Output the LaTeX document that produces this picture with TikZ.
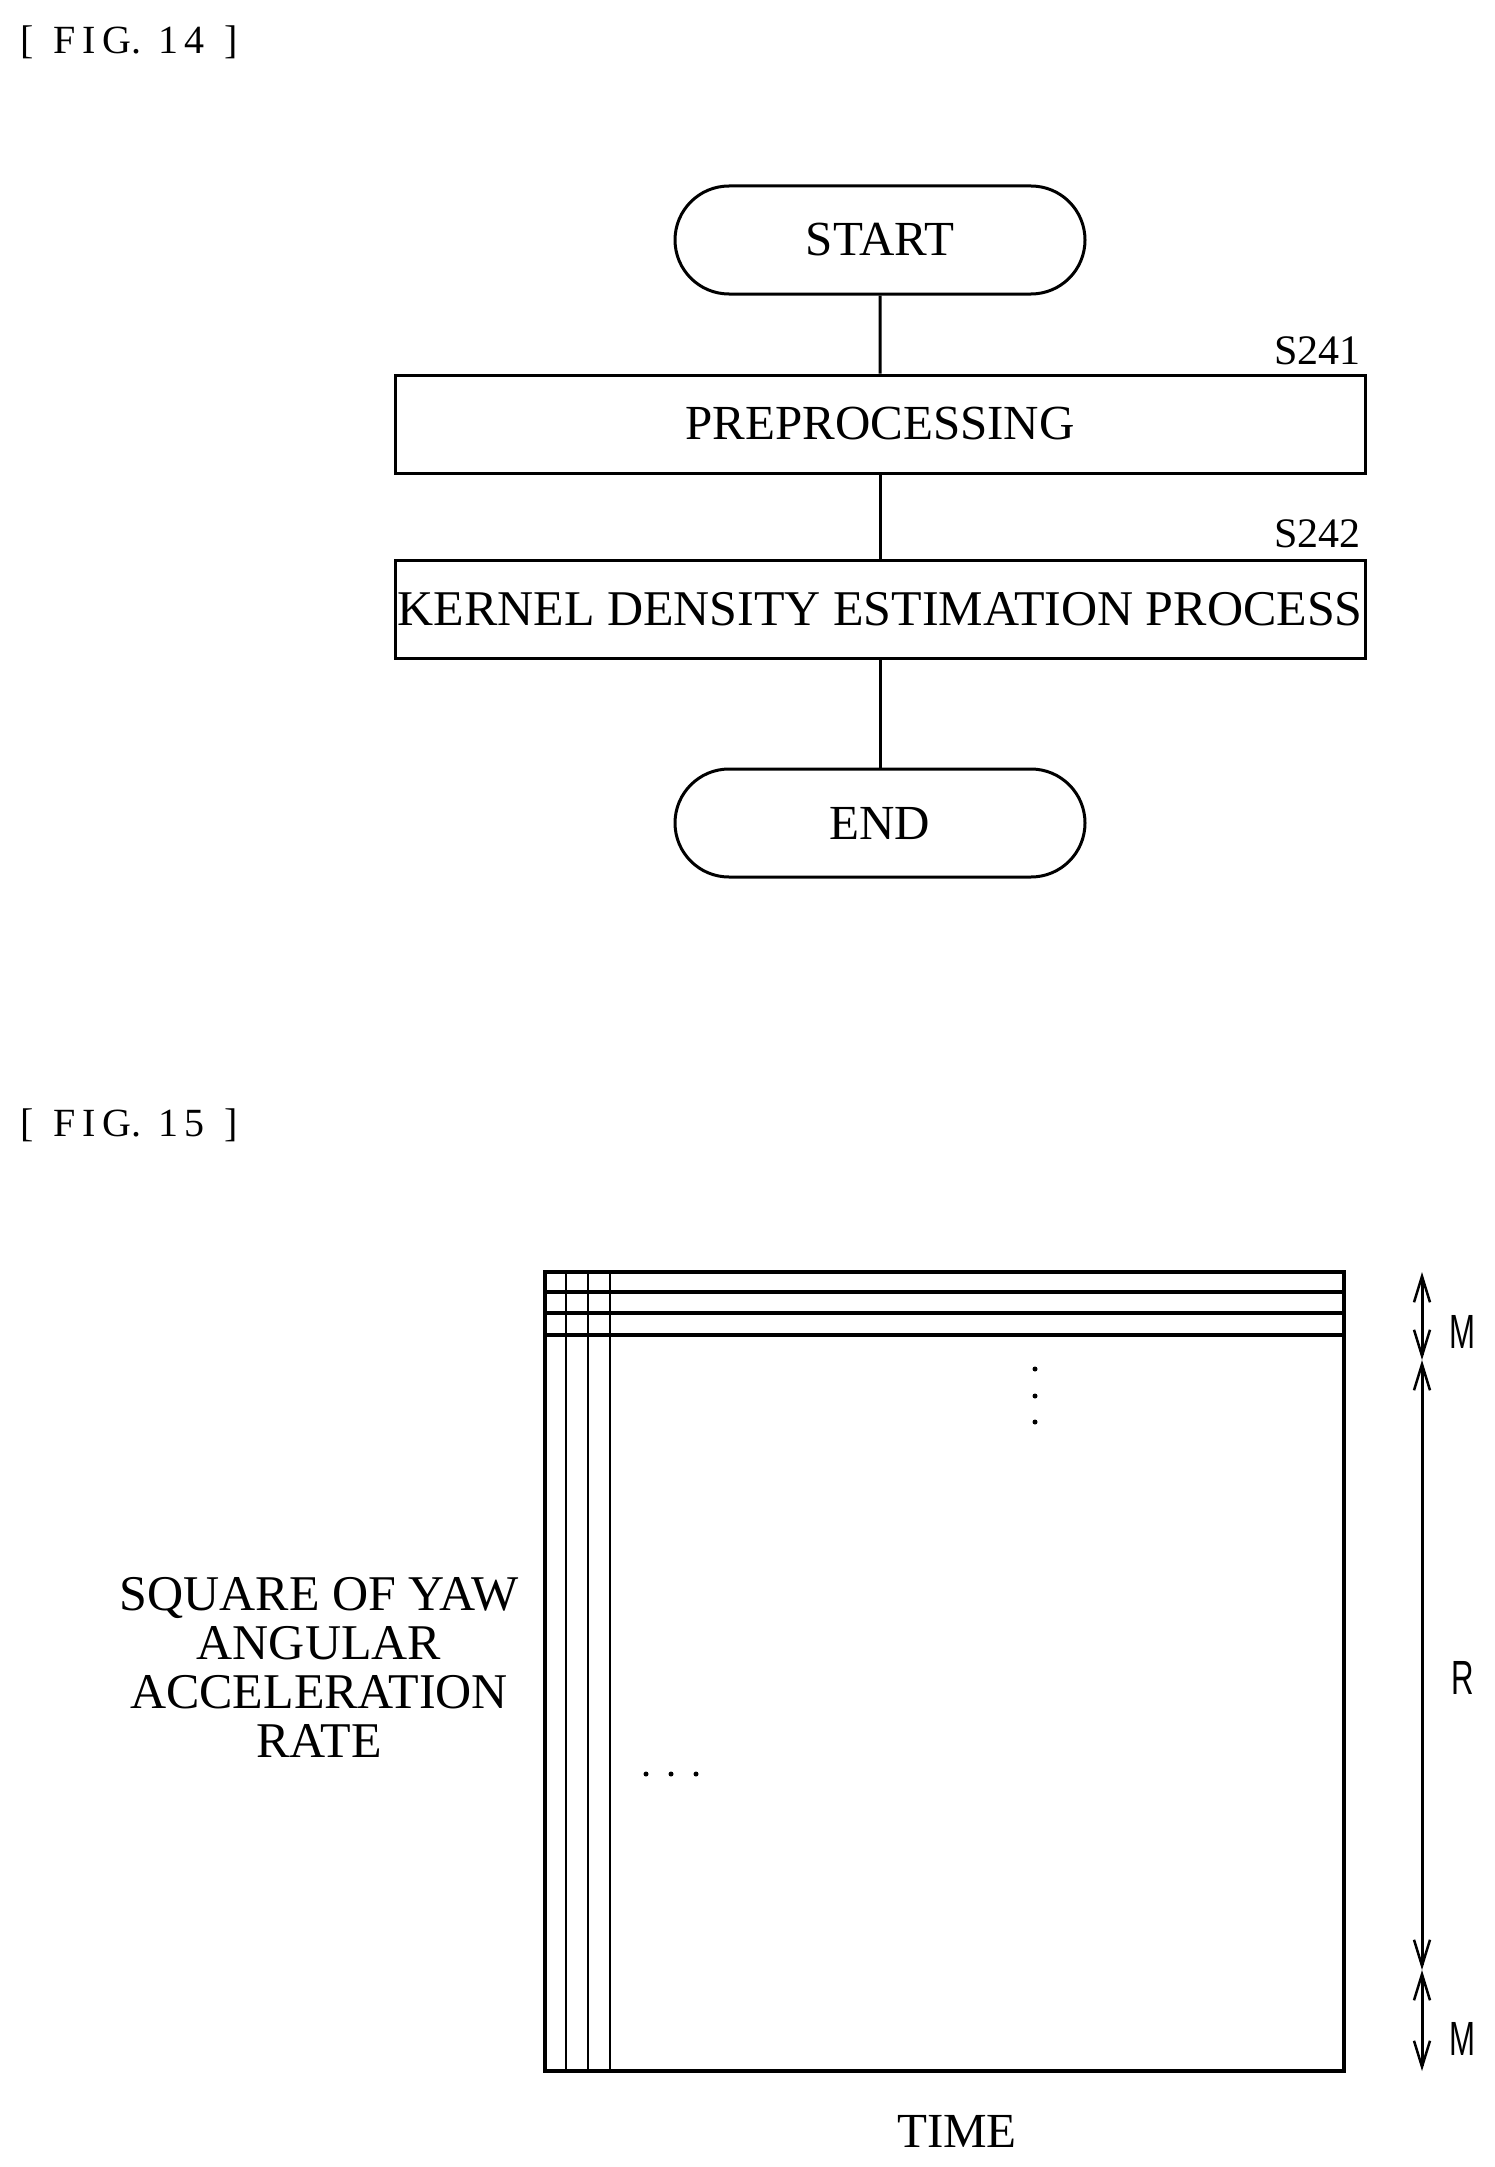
\documentclass[tikz,border=0pt]{standalone}
\usepackage{fontspec}
\setmainfont{Liberation Serif}
\newfontfamily\gothic{Liberation Sans}
\usetikzlibrary{arrows.meta,shapes.misc}
\begin{document}
\begin{tikzpicture}[x=1pt,y=-1pt,
  line width=3pt,
  txt/.style={font=\fontsize{49}{56}\selectfont, inner sep=0pt},
  term/.style={draw, rounded rectangle, minimum width=410pt, minimum height=108pt, txt},
  proc/.style={draw, rectangle, minimum width=970pt, minimum height=98pt, txt},
  lab/.style={font=\fontsize{42}{48}\selectfont, inner sep=0pt, anchor=base east},
  fig/.style={font=\fontsize{40}{46}\selectfont, inner sep=0pt, anchor=west},
  side/.style={font=\gothic\fontsize{48}{50}\selectfont, inner sep=0pt, xscale=0.65},
  dim/.style={line width=3pt, {Straight Barb[length=26pt,width=16pt,line width=2.5pt]}-{Straight Barb[length=26pt,width=16pt,line width=2.5pt]}}
]
\useasboundingbox (0,0) rectangle (1494,2167);
\node[fig] (f14) at (19,42) {[\ \ F\,I\,G.\,\ 1\,4\ \ ]};
\node[fig] (f15) at (19,1125) {[\ \ F\,I\,G.\,\ 1\,5\ \ ]};
% flowchart
\node[term] (start) at (880,240) {START};
\node[proc] (p1) at (880,424) {PREPROCESSING};
\node[proc, font=\fontsize{50}{56}\selectfont] (p2) at (880,609) {KERNEL DENSITY ESTIMATION PROCESS};
\node[term] (end) at (880,823) {END};
\draw (start) -- (p1);
\draw (p1) -- (p2);
\draw (p2) -- (end);
\node[lab] (s1) at (1362,364) {S241};
\node[lab] (s2) at (1362,547) {S242};
% matrix figure
\draw[line width=3.5pt] (545,1272) rectangle (1344,2071);
\foreach \xx in {566,588,610} \draw[line width=2.2pt] (\xx,1272) -- (\xx,2071);
\foreach \yy in {1292,1313,1335} \draw[line width=3.5pt] (545,\yy) -- (1344,\yy);
\foreach \yy in {1369,1396,1422} \fill (1035,\yy) circle (2.5pt);
\foreach \xx in {646,671,696} \fill (\xx,1774) circle (2.5pt);
\coordinate (a0) at (1422,1272);
\coordinate (a1) at (1422,1360);
\coordinate (a2) at (1422,1970);
\coordinate (a3) at (1422,2071);
\draw[dim] (a0) -- (a1);
\draw[dim] (a1) -- (a2);
\draw[dim] (a2) -- (a3);
\node[side] (m1) at (1462,1332) {M};
\node[side] (r) at (1463,1678) {R};
\node[side] (m2) at (1462,2039) {M};
\node[txt, align=center, font=\fontsize{50}{49}\selectfont] (ylab) at (319,1667) {SQUARE OF YAW\\ANGULAR\\ACCELERATION\\RATE};
\node[txt] (time) at (957,2131) {TIME};
\end{tikzpicture}
\end{document}
